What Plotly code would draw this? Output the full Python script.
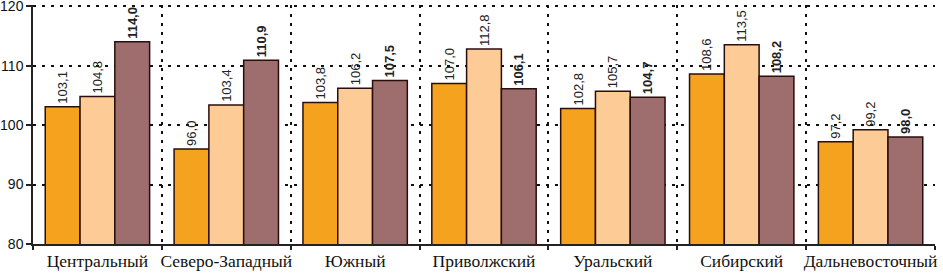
import plotly.graph_objects as go

regions = ["Центральный", "Северо-Западный", "Южный", "Приволжский",
           "Уральский", "Сибирский", "Дальневосточный"]
series1 = [103.1, 96.0, 103.8, 107.0, 102.8, 108.6, 97.2]
series2 = [104.8, 103.4, 106.2, 112.8, 105.7, 113.5, 99.2]
series3 = [114.0, 110.9, 107.5, 106.1, 104.7, 108.2, 98.0]
y_ticks = [80, 90, 100, 110, 120]

colors = ["#F5A31F", "#FDCB95", "#9E6E6E"]
templates = ["%{y:.1f}\u00a0\u00a0", "%{y:.1f}\u00a0\u00a0", "<b>%{y:.1f}</b>\u00a0\u00a0"]

fig = go.Figure()
for vals, col, tpl in zip([series1, series2, series3], colors, templates):
    fig.add_trace(go.Bar(
        x=regions, y=vals,
        marker=dict(color=col, line=dict(color="#2a0d0d", width=1.5)),
        texttemplate=tpl, textposition="outside", textangle=-90,
        textfont=dict(family="Liberation Sans", size=13, color="#222"),
        cliponaxis=False, constraintext="none",
    ))

fig.update_layout(
    width=943, height=274,
    margin=dict(l=33, r=8, t=5, b=30),
    barmode="group", bargap=0.19, bargroupgap=0,
    plot_bgcolor="white", paper_bgcolor="white",
    showlegend=False, separators=",.",
    uniformtext=dict(mode=False),
)
fig.update_xaxes(
    type="category", tickson="boundaries", tickangle=0, automargin=False,
    showgrid=True, gridcolor="#111", gridwidth=2, griddash="3px,6px",
    showline=True, linecolor="#222", linewidth=1.5,
    ticks="outside", ticklen=4, tickcolor="#222", tickwidth=1.5,
    tickfont=dict(family="Liberation Serif", size=17.5, color="#111"),
)
fig.update_yaxes(
    range=[80, 120.2], tickmode="array", tickvals=y_ticks, automargin=False,
    autorange=False, ticklabeloverflow="allow",
    showgrid=True, gridcolor="#111", gridwidth=2, griddash="3px,6px",
    showline=True, linecolor="#222", linewidth=1.5,
    ticks="outside", ticklen=5, tickcolor="#222", tickwidth=1.5,
    tickfont=dict(family="Liberation Sans", size=14, color="#111"),
    zeroline=False,
)
fig.write_html("out.html", config={"displayModeBar": False},
               post_script="document.body.style.margin='0';document.body.style.overflow='hidden';")
